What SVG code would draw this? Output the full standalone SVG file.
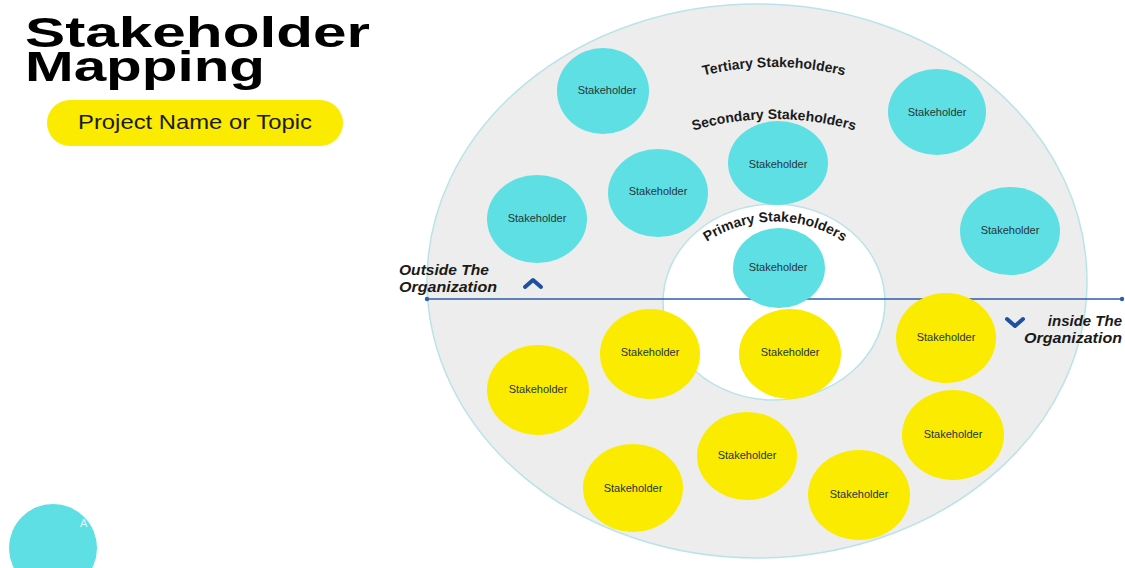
<svg xmlns="http://www.w3.org/2000/svg" width="1125" height="568" viewBox="0 0 1125 568">
<style>
.cy{fill:#5ddfe4}
.ye{fill:#fbeb00}
.lbl{font-family:"Liberation Sans",Arial,sans-serif;font-size:11px;fill:#263638;text-anchor:middle;dominant-baseline:central}
.arc{font-family:"Liberation Sans",Arial,sans-serif;font-size:14px;font-weight:bold;fill:#1a1a1a}
.side{font-family:"Liberation Sans",Arial,sans-serif;font-size:15px;font-weight:bold;font-style:italic;fill:#1a1a1a}
.chev{fill:none;stroke:#1e4fa0;stroke-width:4;stroke-linecap:round;stroke-linejoin:round}
.ttl{font-family:"Liberation Sans",Arial,sans-serif;font-weight:bold;font-size:42px;fill:#000}
</style>
<defs>
<path id="pT" d="M 688 80 A 290 290 0 0 1 860 80"/>
<path id="pS" d="M 682 134 A 290 290 0 0 1 866 134"/>
<path id="pP" d="M 698 248 A 125 125 0 0 1 852 248"/>
</defs>
<rect width="1125" height="568" fill="#ffffff"/>
<g id="title">
<text class="ttl"><tspan x="25" y="47" textLength="345" lengthAdjust="spacingAndGlyphs">Stakeholder</tspan><tspan x="25" y="81" textLength="240" lengthAdjust="spacingAndGlyphs">Mapping</tspan></text>
</g>
<g id="project">
<rect x="47" y="100" width="296" height="46" rx="23" fill="#fbeb00"/>
<text x="195" y="129" font-family="Liberation Sans,Arial,sans-serif" font-size="21" text-anchor="middle" textLength="234" lengthAdjust="spacingAndGlyphs" fill="#1a1a1a">Project Name or Topic</text>
</g>
<g id="corner-circle">
<circle cx="53" cy="548" r="44" class="cy"/>
<text x="80" y="527" font-family="Liberation Sans,Arial,sans-serif" font-size="11" fill="#ffffff" opacity="0.8">A</text>
</g>
<g id="tertiary-ring">
<ellipse cx="757" cy="281" rx="330" ry="277" fill="#ededed" stroke="#b9e3e8" stroke-width="1.5"/>
</g>
<g id="primary-ring">
<ellipse cx="774" cy="302" rx="111" ry="98" fill="#ffffff" stroke="#b9e3e8" stroke-width="1.5"/>
</g>
<g id="connectors">
<line x1="427" y1="299" x2="1122" y2="299" stroke="#2d5ea8" stroke-width="1.5"/>
<circle cx="427" cy="299" r="2.2" fill="#2d5ea8"/>
<circle cx="1122" cy="299" r="2.2" fill="#2d5ea8"/>
</g>
<g id="ring-labels">
<text class="arc"><textPath href="#pT" startOffset="50%" text-anchor="middle">Tertiary Stakeholders</textPath></text>
<text class="arc"><textPath href="#pS" startOffset="50%" text-anchor="middle">Secondary Stakeholders</textPath></text>
<text class="arc"><textPath href="#pP" startOffset="50%" text-anchor="middle">Primary Stakeholders</textPath></text>
</g>
<g id="outside-label">
<text class="side" x="399" y="275" textLength="90" lengthAdjust="spacingAndGlyphs">Outside The</text>
<text class="side" x="399" y="292" textLength="98" lengthAdjust="spacingAndGlyphs">Organization</text>
<polyline class="chev" points="525,287 533,280 541,287"/>
</g>
<g id="inside-label">
<text class="side" x="1122" y="326" text-anchor="end">inside The</text>
<text class="side" x="1024" y="343" textLength="98" lengthAdjust="spacingAndGlyphs">Organization</text>
<polyline class="chev" points="1007,319 1015,326 1023,319"/>
</g>
<g id="c1"><ellipse cx="603" cy="91" rx="46" ry="43" class="cy"/><text class="lbl" x="607" y="90">Stakeholder</text></g>
<g id="c2"><ellipse cx="778" cy="163" rx="50" ry="42" class="cy"/><text class="lbl" x="778" y="164">Stakeholder</text></g>
<g id="c3"><ellipse cx="658" cy="193" rx="50" ry="44" class="cy"/><text class="lbl" x="658" y="191">Stakeholder</text></g>
<g id="c4"><ellipse cx="537" cy="219" rx="50" ry="44" class="cy"/><text class="lbl" x="537" y="218">Stakeholder</text></g>
<g id="c5"><ellipse cx="937" cy="112" rx="49" ry="43" class="cy"/><text class="lbl" x="937" y="112">Stakeholder</text></g>
<g id="c6"><ellipse cx="1010" cy="231" rx="50" ry="44" class="cy"/><text class="lbl" x="1010" y="230">Stakeholder</text></g>
<g id="c7"><ellipse cx="779" cy="268" rx="46" ry="40" class="cy"/><text class="lbl" x="778" y="267">Stakeholder</text></g>
<g id="y1"><ellipse cx="650" cy="354" rx="50" ry="45" class="ye"/><text class="lbl" x="650" y="352">Stakeholder</text></g>
<g id="y2"><ellipse cx="790" cy="354" rx="51" ry="45" class="ye"/><text class="lbl" x="790" y="352">Stakeholder</text></g>
<g id="y3"><ellipse cx="946" cy="338" rx="50" ry="45" class="ye"/><text class="lbl" x="946" y="337">Stakeholder</text></g>
<g id="y4"><ellipse cx="538" cy="390" rx="51" ry="45" class="ye"/><text class="lbl" x="538" y="389">Stakeholder</text></g>
<g id="y5"><ellipse cx="953" cy="435" rx="51" ry="45" class="ye"/><text class="lbl" x="953" y="434">Stakeholder</text></g>
<g id="y6"><ellipse cx="747" cy="456" rx="50" ry="44" class="ye"/><text class="lbl" x="747" y="455">Stakeholder</text></g>
<g id="y7"><ellipse cx="633" cy="488" rx="50" ry="44" class="ye"/><text class="lbl" x="633" y="488">Stakeholder</text></g>
<g id="y8"><ellipse cx="859" cy="495" rx="51" ry="45" class="ye"/><text class="lbl" x="859" y="494">Stakeholder</text></g>
</svg>
